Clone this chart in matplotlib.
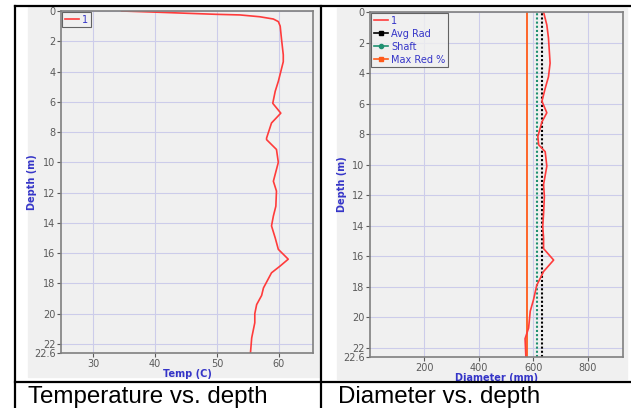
import matplotlib
matplotlib.use("Agg")
from matplotlib import pyplot as plt
from matplotlib.lines import Line2D
from matplotlib.patches import Rectangle

# --- data ---
temp_depth = [0, 0.07, 0.15, 0.22, 0.26, 0.38, 0.53, 0.7, 1.0, 1.8, 2.9, 3.35, 4.0, 4.65,
              5.3, 6.1, 6.75, 7.4, 8.4, 8.5, 9.15, 10.0, 11.25, 11.9, 12.9, 13.55, 14.2,
              15.0, 15.75, 16.4, 16.85, 17.3, 18.3, 18.8, 19.4, 20.0, 20.6, 21.6, 22.6]
temp = [34.6, 39.7, 45.1, 49.9, 53.7, 56.9, 59.1, 59.9, 60.2, 60.4, 60.7, 60.7, 60.3, 59.9,
        59.4, 59.0, 60.3, 58.8, 58.0, 58.0, 59.6, 59.9, 59.1, 59.6, 59.5, 59.1, 58.8,
        59.4, 59.9, 61.5, 60.2, 58.8, 57.5, 57.2, 56.4, 56.1, 56.1, 55.6, 55.4]

diam_depth = [0, 0.85, 1.7, 3.35, 4.25, 5.0, 5.85, 6.6, 7.2, 8.15, 8.7, 9.15, 10.1, 11.3,
              12.1, 13.2, 14.05, 14.8, 15.5, 16.25, 17.0, 17.9, 18.85, 19.6, 20.7, 21.4, 22.6]
diam = [638, 650, 656, 662, 656, 644, 632, 650, 632, 617, 620, 644, 650, 638,
        641, 638, 635, 638, 638, 675, 638, 613, 601, 589, 583, 570, 573]

avg_rad = 632
shaft = 613
max_red = 577
depth_max = 22.6

depth_ticks = [0, 2, 4, 6, 8, 10, 12, 14, 16, 18, 20, 22, 22.6]
depth_labels = ["0", "2", "4", "6", "8", "10", "12", "14", "16", "18", "20", "22", "22.6"]
temp_ticks = [30, 40, 50, 60]
diam_ticks = [200, 400, 600, 800]

W, H = 631, 408
bg = "#f0f0f0"
grid_c = "#ccccea"
label_c = "#3535c8"
tick_c = "#5a5a5a"

fig = plt.figure(figsize=(W / 100, H / 100), dpi=100)


def fx(px):
    return px / W


def fy(py):
    return 1 - py / H


# gray chart panels
fig.add_artist(Rectangle((fx(28), fy(377)), fx(320) - fx(28), fy(7) - fy(377),
                         transform=fig.transFigure, color=bg, zorder=0))
fig.add_artist(Rectangle((fx(337), fy(379)), fx(627) - fx(337), fy(8) - fy(379),
                         transform=fig.transFigure, color=bg, zorder=0))

# table borders
for xs, ys in [([15, 15], [6, 408]), ([321.5, 321.5], [6, 408]),
               ([15, 631], [6, 6]), ([15, 631], [381.5, 381.5])]:
    fig.add_artist(Line2D([fx(x) for x in xs], [fy(y) for y in ys],
                          transform=fig.transFigure, color="black", lw=1.6))


def style_axes(ax, xlim, xticks, xlabel):
    ax.set_facecolor(bg)
    ax.set_xlim(*xlim)
    ax.set_ylim(depth_max, 0)
    ax.set_yticks(depth_ticks)
    ax.set_yticklabels(depth_labels)
    ax.set_xticks(xticks)
    ax.tick_params(labelsize=7, colors=tick_c, length=3, width=0.8, pad=1)
    ax.grid(True, color=grid_c, lw=0.8)
    ax.set_axisbelow(True)
    for s in ax.spines.values():
        s.set_color("#808080")
        s.set_linewidth(1.2)
    ax.set_xlabel(xlabel, color=label_c, fontsize=7, fontweight="bold", labelpad=0)
    ax.set_ylabel("Depth (m)", color=label_c, fontsize=7, fontweight="bold")


def legend(ax, handles, labels):
    lg = ax.legend(handles, labels, loc="upper left", fontsize=7, frameon=True,
                   fancybox=False, borderaxespad=0.15, handlelength=1.5,
                   handletextpad=0.3, borderpad=0.25, labelspacing=0.3,
                   labelcolor=label_c)
    lg.get_frame().set_edgecolor("#404040")
    lg.get_frame().set_facecolor(bg)
    lg.get_frame().set_linewidth(0.8)


# --- temperature vs depth ---
ax1 = fig.add_axes([fx(61), fy(353), fx(313) - fx(61), fy(11) - fy(353)])
style_axes(ax1, (24.8, 65.5), temp_ticks, "Temp (C)")
l1, = ax1.plot(temp, temp_depth, color="#ff3b3b", lw=1.2)
legend(ax1, [l1], ["1"])
ax1.yaxis.set_label_coords(-0.095, 0.5)

# --- diameter vs depth ---
ax2 = fig.add_axes([fx(370), fy(357), fx(623) - fx(370), fy(12) - fy(357)])
style_axes(ax2, (0, 930), diam_ticks, "Diameter (mm)")
ax2.axvline(max_red, color="#ff5a1a", lw=1.3)
ax2.axvline(shaft, color="#1f9070", lw=1.5, ls=(0, (1, 1)))
ax2.axvline(avg_rad, color="black", lw=1.5, ls=(0, (1, 1)))
l2, = ax2.plot(diam, diam_depth, color="#ff3b3b", lw=1.2)
h_avg = Line2D([], [], color="black", lw=1.2, marker="s", markersize=3)
h_shaft = Line2D([], [], color="#1f9070", lw=1.2, marker="o", markersize=3)
h_max = Line2D([], [], color="#ff5a1a", lw=1.2, marker="s", markersize=3)
legend(ax2, [l2, h_avg, h_shaft, h_max], ["1", "Avg Rad", "Shaft", "Max Red %"])
ax2.yaxis.set_label_coords(-0.09, 0.5)

# captions
fig.text(fx(28), fy(403), "Temperature vs. depth", fontsize=17.4,
         family="Liberation Sans", va="baseline")
fig.text(fx(338), fy(403), "Diameter vs. depth", fontsize=17.4,
         family="Liberation Sans", va="baseline")

fig.savefig("out.png", dpi=100)
